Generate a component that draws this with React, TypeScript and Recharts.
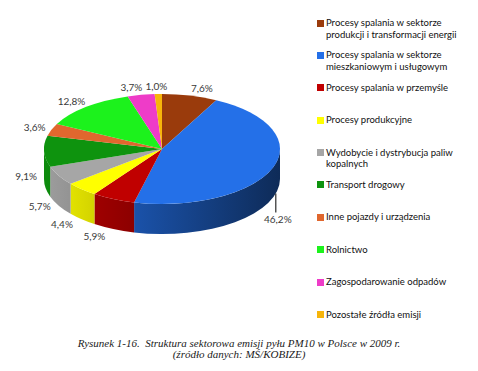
import { PieChart, Pie, Legend } from 'recharts'

// Struktura sektorowa emisji pyłu PM10 w Polsce w 2009 r. (%)
const SECTORS = [
  'Procesy spalania w sektorze produkcji i transformacji energii',
  'Procesy spalania w sektorze mieszkaniowym i usługowym',
  'Procesy spalania w przemyśle',
  'Procesy produkcyjne',
  'Wydobycie i dystrybucja paliw kopalnych',
  'Transport drogowy',
  'Inne pojazdy i urządzenia',
  'Rolnictwo',
  'Zagospodarowanie odpadów',
  'Pozostałe źródła emisji',
]
const SHARES = [7.6, 46.2, 5.9, 4.4, 5.7, 9.1, 3.6, 12.8, 3.7, 1.0]

const COLORS = [
  '#9A3B0C', '#2470E8', '#C00000', '#FFFF00', '#A6A6A6',
  '#0E930E', '#E0672E', '#1CF21C', '#EE3CC8', '#F7B50A',
]

const data = SECTORS.map((name, i) => ({ name, value: SHARES[i], fill: COLORS[i] }))

const RAD = Math.PI / 180
const TILT = 55 / 118
const DEPTH = 30
const LABEL_FONT = 'Lato, "Open Sans", sans-serif'

function shade(hex: string, k: number) {
  const n = parseInt(hex.slice(1), 16)
  const c = [(n >> 16) & 255, (n >> 8) & 255, n & 255].map((v) => Math.round(v * k))
  return `rgb(${c[0]},${c[1]},${c[2]})`
}

function Slice3D(props: any) {
  const { cx, cy, outerRadius, startAngle, endAngle, fill, index } = props
  const rx = outerRadius
  const ry = outerRadius * TILT
  const pt = (a: number, dy = 0) => `${cx + rx * Math.cos(a * RAD)},${cy - ry * Math.sin(a * RAD) + dy}`
  const hi = Math.max(startAngle, endAngle)
  const lo = Math.min(startAngle, endAngle)
  const large = hi - lo > 180 ? 1 : 0
  const top = `M${cx},${cy} L${pt(hi)} A${rx},${ry} 0 ${large} 1 ${pt(lo)} Z`

  // front wall: the part of the slice whose angle lies in (-180, 0)
  const s = Math.min(hi, 0)
  const e = Math.max(lo, -180)
  const gid = `side-${index}`
  return (
    <g>
      {s > e && (
        <>
          <defs>
            <linearGradient id={gid} gradientUnits="userSpaceOnUse" x1={cx - rx} x2={cx + rx} y1={0} y2={0}>
              <stop offset="0%" stopColor={shade(fill, 0.95)} />
              <stop offset="100%" stopColor={shade(fill, 0.38)} />
            </linearGradient>
          </defs>
          <path
            d={`M${pt(s)} A${rx},${ry} 0 0 1 ${pt(e)} L${pt(e, DEPTH)} A${rx},${ry} 0 0 0 ${pt(s, DEPTH)} Z`}
            fill={`url(#${gid})`}
          />
        </>
      )}
      <path d={top} fill={fill} />
    </g>
  )
}

function SliceLabel(props: any) {
  const { cx, cy, midAngle, outerRadius, value } = props
  const rx = outerRadius
  const ry = outerRadius * TILT
  const cos = Math.cos(midAngle * RAD)
  const sin = Math.sin(midAngle * RAD)
  const text = `${Number(value).toFixed(1).replace('.', ',')}%`
  const style = { fontFamily: LABEL_FONT, fontSize: 10, fill: '#3a3a3a' }

  if (value > 40) {
    // big slice: label hangs under the wall on a short leader
    const c = Math.min(0.99, cos * 1.03)
    const x = cx + rx * c
    const y0 = cy + ry * Math.sqrt(1 - c * c) + DEPTH
    return (
      <g>
        <line x1={x} y1={y0} x2={x} y2={y0 + 19} stroke="#000" strokeWidth={1} />
        <text x={x + 2} y={y0 + 26} textAnchor="middle" dominantBaseline="central" {...style}>
          {text}
        </text>
      </g>
    )
  }

  let x: number
  let y: number
  if (sin < 0) {
    x = cx + (rx + 18) * cos - 14 * sin * sin
    y = cy - (ry + 14) * sin + 24
  } else {
    x = cx + (rx + 18) * cos * (1 + 0.3 * Math.pow(sin, 8))
    y = cy - (ry + 8) * sin
  }
  return (
    <text x={x} y={y} textAnchor="middle" dominantBaseline="central" {...style}>
      {text}
    </text>
  )
}

function LegendList() {
  return (
    <div style={{ fontFamily: LABEL_FONT, fontSize: 9.5, color: '#111', width: 148 }}>
      {SECTORS.map((name, i) => (
        <div key={name} style={{ height: 32.4, display: 'flex', alignItems: 'flex-start' }}>
          <span
            style={{
              width: 7,
              height: 7,
              background: COLORS[i],
              marginTop: 2.5,
              marginRight: 2,
              flex: 'none',
            }}
          />
          <span style={{ lineHeight: '11.5px' }}>{name}</span>
        </div>
      ))}
    </div>
  )
}

export default function App() {
  return (
    <div style={{ position: 'absolute', left: 0, top: 0, width: 478, height: 371, background: '#fff' }}>
      <PieChart width={478} height={330} margin={{ top: 0, right: 0, bottom: 0, left: 0 }}>
        <Pie
          data={data}
          dataKey="value"
          nameKey="name"
          cx={162}
          cy={149}
          outerRadius={118}
          startAngle={90}
          endAngle={-270}
          stroke="none"
          shape={Slice3D}
          label={SliceLabel}
          labelLine={false}
          isAnimationActive={false}
        />
        <Legend
          layout="vertical"
          align="right"
          verticalAlign="top"
          content={() => <LegendList />}
          wrapperStyle={{ left: 317, top: 17, width: 150 }}
        />
      </PieChart>
      <div
        style={{
          position: 'absolute',
          left: 0,
          top: 338,
          width: 478,
          textAlign: 'center',
          fontFamily: '"Liberation Serif", serif',
          fontStyle: 'italic',
          fontSize: 11,
          lineHeight: '11px',
          color: '#1a1a1a',
          whiteSpace: 'pre',
        }}
      >
        {'Rysunek 1-16.  Struktura sektorowa emisji pyłu PM10 w Polsce w 2009 r.'}
        <br />
        {'(źródło danych: MŚ/KOBIZE)'}
      </div>
    </div>
  )
}
